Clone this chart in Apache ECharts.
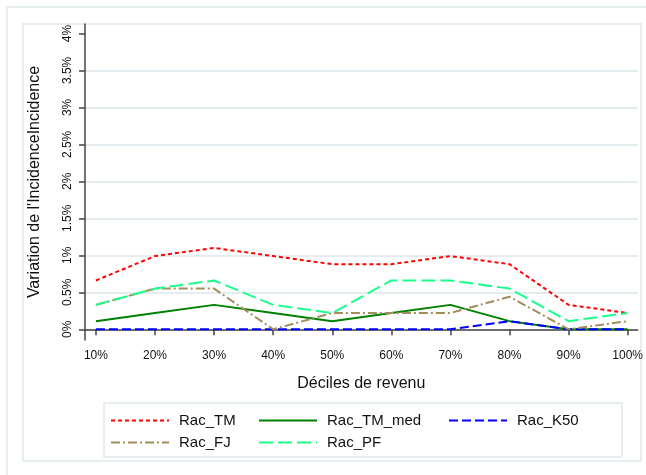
<!DOCTYPE html>
<html>
<head>
<meta charset="utf-8">
<script src="https://cdn.jsdelivr.net/npm/echarts@6/dist/echarts.min.js"></script>
<style>
  html, body { margin: 0; padding: 0; background: #fff; }
  #chart { width: 646px; height: 475px; }
</style>
</head>
<body>
<div id="chart"></div>
<script>
// déciles de revenu (axe x)
var deciles = [10, 20, 30, 40, 50, 60, 70, 80, 90, 100];
// variation de l'incidence, en %
var racTM = [0.66, 0.99, 1.1, 0.99, 0.88, 0.88, 0.99, 0.88, 0.33, 0.22];
var racTMmed = [0.11, 0.22, 0.33, 0.22, 0.11, 0.22, 0.33, 0.11, 0, 0];
var racK50 = [0, 0, 0, 0, 0, 0, 0, 0.11, 0, 0];
var racFJ = [0.33, 0.55, 0.55, 0, 0.22, 0.22, 0.22, 0.44, 0, 0.11];
var racPF = [0.33, 0.55, 0.66, 0.33, 0.22, 0.66, 0.66, 0.55, 0.11, 0.22];
var yTicks = [0, 0.5, 1, 1.5, 2, 2.5, 3, 3.5, 4];

var frameColor = '#e6eef0';
var font = 'Liberation Sans, Arial, sans-serif';

function pairs(values) {
    return deciles.map(function (d, i) { return [d, values[i]]; });
}

function makeSeries(name, values, color, dash) {
    return {
        name: name,
        type: 'line',
        data: pairs(values),
        symbol: 'none',
        silent: true,
        lineStyle: { color: color, width: 2, type: dash },
        itemStyle: { color: color }
    };
}

var chart = echarts.init(document.getElementById('chart'), null, { renderer: 'canvas' });

// la ligne de grille du haut (4%) n'est pas tracée
var gridColors = yTicks.map(function (v, i) { return i === yTicks.length - 1 ? 'rgba(0,0,0,0)' : '#e4ecef'; });

var legendBase = {
    orient: 'vertical',
    top: 413,
    padding: 0,
    itemWidth: 58,
    itemHeight: 14,
    itemGap: 7,
    selectedMode: false,
    // pas de marqueur, seulement le trait
    itemStyle: { opacity: 0 },
    textStyle: { fontFamily: font, fontSize: 15, color: '#111', padding: [0, 0, 0, 5] }
};

chart.setOption({
    animation: false,
    backgroundColor: '#fff',
    graphic: [
        { type: 'rect', shape: { x: 7, y: 7, width: 660, height: 480 }, style: { fill: null, stroke: frameColor, lineWidth: 2 }, silent: true },
        { type: 'rect', shape: { x: 23, y: 24, width: 618, height: 437 }, style: { fill: null, stroke: frameColor, lineWidth: 2 }, silent: true },
        { type: 'rect', shape: { x: 104, y: 403, width: 518, height: 54 }, style: { fill: null, stroke: frameColor, lineWidth: 2 }, silent: true }
    ],
    grid: { left: 85, right: 5, top: 24, bottom: 135 },
    legend: [
        Object.assign({}, legendBase, { left: 110, data: ['Rac_TM', 'Rac_FJ'] }),
        Object.assign({}, legendBase, { left: 258, data: ['Rac_TM_med', 'Rac_PF'] }),
        Object.assign({}, legendBase, { left: 448, data: ['Rac_K50'] })
    ],
    xAxis: {
        type: 'value',
        min: 8.15,
        max: 101.7,
        name: 'Déciles de revenu',
        nameLocation: 'middle',
        nameGap: 36,
        nameTextStyle: { fontFamily: font, fontSize: 16, color: '#111' },
        axisLine: { lineStyle: { color: '#444', width: 1.5 } },
        axisTick: { length: 6, customValues: deciles, lineStyle: { color: '#444', width: 1.5 } },
        axisLabel: {
            customValues: deciles,
            margin: 10,
            fontFamily: font,
            fontSize: 12,
            color: '#111',
            formatter: '{value}%'
        },
        splitLine: { show: false }
    },
    yAxis: {
        type: 'value',
        min: -0.145,
        max: 4.128,
        name: "Variation de l'IncidenceIncidence",
        nameLocation: 'middle',
        nameGap: 42,
        nameRotate: 90,
        nameTextStyle: { fontFamily: font, fontSize: 16, color: '#111' },
        axisLine: { show: true, lineStyle: { color: '#444', width: 1.5 } },
        axisTick: { show: true, length: 6, customValues: yTicks, lineStyle: { color: '#444', width: 1.5 } },
        axisLabel: {
            customValues: yTicks,
            rotate: 90,
            margin: 11,
            fontFamily: font,
            fontSize: 12,
            color: '#111',
            formatter: '{value}%'
        },
        splitLine: { show: true, lineStyle: { color: gridColors, width: 2 } }
    },
    series: [
        makeSeries('Rac_TM', racTM, '#ff0000', [4, 3]),
        makeSeries('Rac_TM_med', racTMmed, '#008000', 'solid'),
        makeSeries('Rac_K50', racK50, '#0000ff', [9, 4]),
        makeSeries('Rac_FJ', racFJ, '#a38d5b', [9, 3, 2, 3]),
        makeSeries('Rac_PF', racPF, '#1aff8c', [14, 5])
    ]
});
</script>
</body>
</html>
